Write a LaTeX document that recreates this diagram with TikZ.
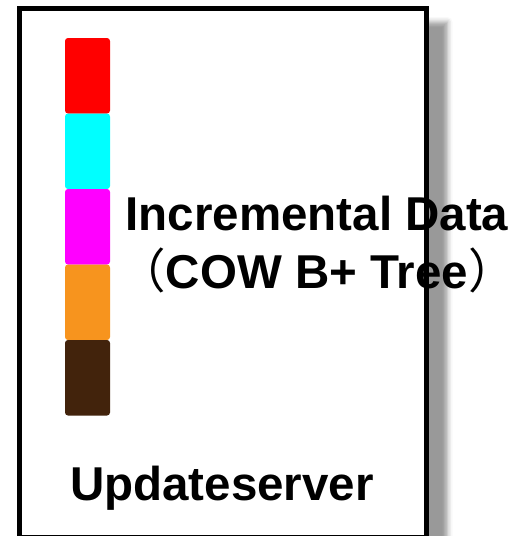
\documentclass[tikz,border=0pt]{standalone}
\usepackage{fontspec}
\setmainfont{Liberation Sans}
\newfontfamily\cjk{Noto Sans CJK SC}
\usetikzlibrary{positioning, shadows.blur}
\definecolor{xRed}{RGB}{255,0,0}
\definecolor{xCyan}{RGB}{0,255,255}
\definecolor{xMagenta}{RGB}{255,0,255}
\definecolor{xOrange}{RGB}{247,148,30}
\definecolor{xBrown}{RGB}{66,35,12}
\tikzset{
  server/.style={draw=black, line width=5pt, fill=white, inner sep=0pt,
                 minimum width=407pt, minimum height=529pt,
                 blur shadow={shadow xshift=21pt, shadow yshift=-14pt, shadow blur radius=5pt}},
  slot/.style={rounded corners=3pt, inner sep=0pt, minimum width=45pt, minimum height=75.5pt},
  caption/.style={font=\bfseries\fontsize{47.5}{56}\selectfont, inner sep=0pt, anchor=base},
}
\newcommand{\wideparen}[1]{{\cjk\mdseries #1}}
\begin{document}
\begin{tikzpicture}[x=1pt, y=-1pt]
    \useasboundingbox (0,0) rectangle (518,536);
    \begin{scope}
      \clip (0,0) rectangle (518,536);
      \node[server] (box) at (223,272.5) {};
    \end{scope}
    % stack of pages
    \foreach \c [count=\i] in {xRed, xCyan, xMagenta, xOrange, xBrown}
      \node[slot, fill=\c] (slot\i) at (87.5,{75.75+75.5*(\i-1)}) {};
    \node[caption] (data) at (317,230)   {Incremental Data};
    \node[caption] (tree) at (317,288.5) {\wideparen{（}COW B+ Tree\wideparen{）}};
    \node[caption] (name) at (222,500.5) {Updateserver};
  \end{tikzpicture}
\end{document}
